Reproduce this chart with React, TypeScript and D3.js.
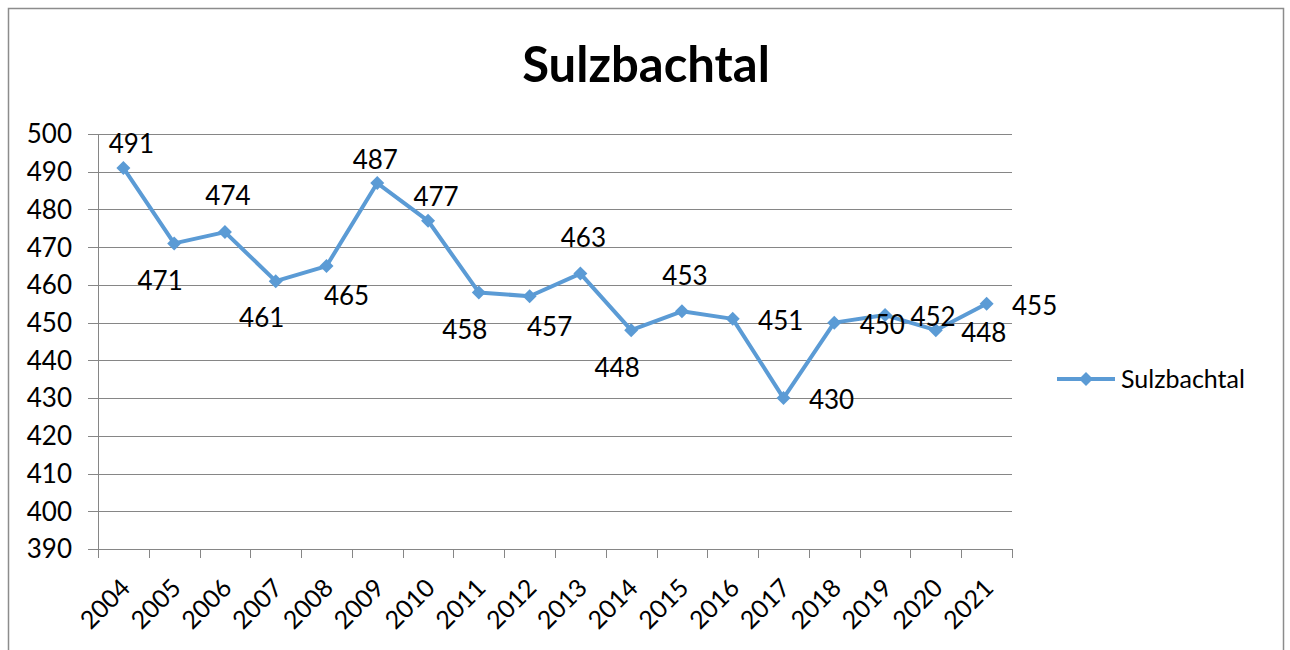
import React from "react";
import * as d3 from "d3";

const title = "Sulzbachtal";
const seriesName = "Sulzbachtal";
const years = ["2004","2005","2006","2007","2008","2009","2010","2011","2012","2013","2014","2015","2016","2017","2018","2019","2020","2021"];
const values = [491, 471, 474, 461, 465, 487, 477, 458, 457, 463, 448, 453, 451, 430, 450, 452, 448, 455];
const labelPlacement = ["tr","bl","tt","bl","br","t","tr","bl","br","tt","bl","tt","r","r","r","r","r","r"];
const yTicks = [390, 400, 410, 420, 430, 440, 450, 460, 470, 480, 490, 500];

const W = 1290, H = 650;
const plot = { left: 98, right: 1012, top: 134, bottom: 549 };
const FONT = "Lato, 'Open Sans', sans-serif";
const LINE = "#5B9BD5";
const AXIS = "#868686";

const offsets: Record<string, [number, number]> = {
  t: [-2, -23],
  tr: [8, -24],
  tt: [3, -36],
  bl: [-14, 37],
  br: [20, 30],
  r: [48, 2],
};

function diamond(cx: number, cy: number, r: number) {
  return `M${cx},${cy - r}L${cx + r},${cy}L${cx},${cy + r}L${cx - r},${cy}Z`;
}

export default function App() {
  const x = d3.scaleBand<string>().domain(years).range([plot.left, plot.right]).paddingInner(0).paddingOuter(0);
  const y = d3.scaleLinear().domain([390, 500]).range([plot.bottom, plot.top]);
  const cx = (i: number) => (x(years[i]) as number) + x.bandwidth() / 2;
  const line = d3.line<number>().x((_, i) => cx(i)).y((v) => y(v));
  const boundaries = years.map((yr) => x(yr) as number).concat([plot.right]);

  return (
    <svg width={W} height={H} style={{ position: "absolute", left: 0, top: 0, display: "block" }} fontFamily={FONT}>
      <rect x={0} y={0} width={W} height={H} fill="#fff" />
      <rect x={8.5} y={8.5} width={1275} height={660} fill="#fff" stroke="#8c8c8c" strokeWidth={1.5} />
      <text x={646} y={82} textAnchor="middle" fontSize={49} fontWeight="bold" fill="#000">{title}</text>

      {yTicks.map((t) => (
        <g key={t}>
          <line x1={plot.left - 10} x2={plot.right} y1={Math.round(y(t)) + 0.5} y2={Math.round(y(t)) + 0.5} stroke={AXIS} strokeWidth={1} />
          <text x={72} y={y(t)} dy="0.36em" textAnchor="end" fontSize={26} fill="#000">{t}</text>
        </g>
      ))}
      <line x1={plot.left + 0.5} x2={plot.left + 0.5} y1={plot.top} y2={plot.bottom} stroke={AXIS} strokeWidth={1} />
      {boundaries.map((bx, i) => (
        <line key={i} x1={Math.round(bx) + 0.5} x2={Math.round(bx) + 0.5} y1={plot.bottom} y2={plot.bottom + 9} stroke={AXIS} strokeWidth={1} />
      ))}
      {years.map((yr, i) => (
        <text key={yr} transform={`translate(${cx(i) + 2},${plot.bottom + 34}) rotate(-45)`} textAnchor="end" dy="0.36em" fontSize={25} fill="#000">{yr}</text>
      ))}

      <path d={line(values) || ""} fill="none" stroke={LINE} strokeWidth={4} strokeLinejoin="round" />
      {values.map((v, i) => (
        <path key={i} d={diamond(cx(i), y(v), 7)} fill={LINE} />
      ))}
      {values.map((v, i) => {
        const [dx, dy] = offsets[labelPlacement[i]];
        return (
          <text key={i} x={cx(i) + dx} y={y(v) + dy} dy="0.36em" textAnchor="middle" fontSize={26} fill="#000">{v}</text>
        );
      })}

      <line x1={1057} x2={1115} y1={379} y2={379} stroke={LINE} strokeWidth={4} />
      <path d={diamond(1086, 379, 7)} fill={LINE} />
      <text x={1121} y={379} dy="0.36em" fontSize={25} fill="#000">{seriesName}</text>
    </svg>
  );
}
